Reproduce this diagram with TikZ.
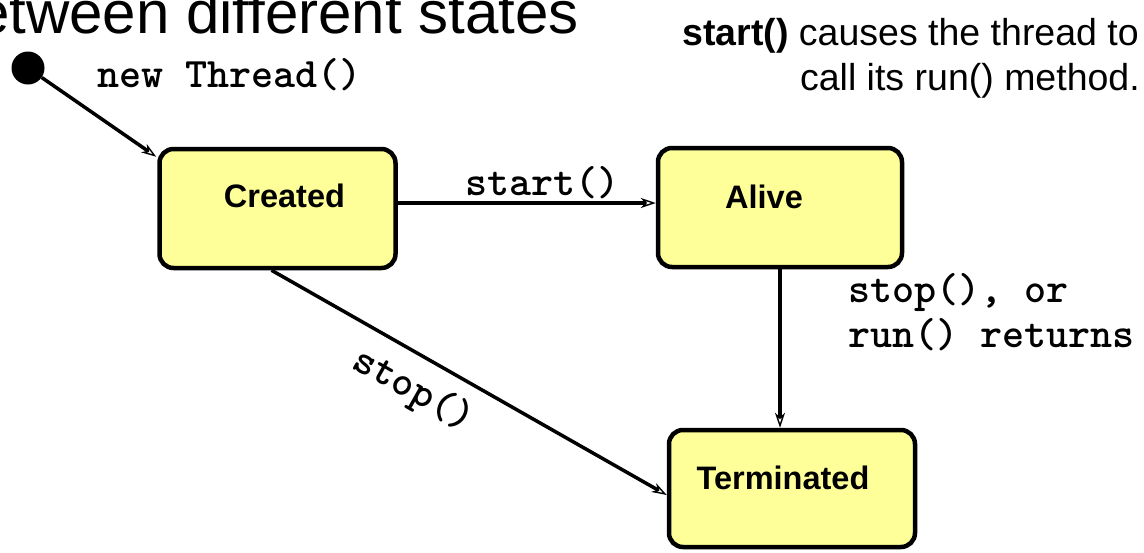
\documentclass[tikz,border=0pt]{standalone}
\usepackage{fontspec}
\setmainfont{Liberation Sans}
\usetikzlibrary{arrows.meta,calc}
\definecolor{statefill}{HTML}{FFFF99}
\tikzset{
  state/.style={draw, line width=4.5pt, rounded corners=14pt, fill=statefill, inner sep=0pt},
  statetext/.style={inner sep=0pt, font=\fontsize{32.5}{39}\selectfont\bfseries},
  code/.style={inner sep=0pt, font=\ttfamily\bfseries\fontsize{42}{45}\selectfont},
  note/.style={inner sep=0pt, font=\fontsize{37.5}{44}\selectfont},
  conn/.style={line width=3.5pt, -{Stealth[open, length=15pt, width=10pt, inset=4.5pt, line width=1.4pt]}},
}
\begin{document}
\begin{tikzpicture}[x=1pt, y=-1pt]
\useasboundingbox (0,0) rectangle (1144,552);
\clip (0,0) rectangle (1144,552);

% heading, cut by the top edge
\node[inner sep=0pt, anchor=base west, font=\fontsize{60}{72}\selectfont] (heading) at (-24,33) {etween different states};

% note on start()
\node[note, anchor=base east] (note1) at (1139,45) {\textbf{start()} causes the thread to};
\node[note, anchor=base east] (note2) at (1140,90) {call its run() method.};

% initial pseudo-state
\node[circle, fill=black, inner sep=0pt, minimum size=33pt] (init) at (28,68) {};
\node[code, anchor=base west] (newlbl) at (97,87) {new Thread()};

% states
\node[state, minimum width=236pt, minimum height=119pt] (created) at (277.5,208.5) {};
\node[state, minimum width=244pt, minimum height=119pt] (alive) at (780,207.5) {};
\node[state, minimum width=246pt, minimum height=117pt] (terminated) at (792,488.5) {};

\node[statetext] (createdtxt) at ($(created.center)+(7,-12.5)$) {Created};
\node[statetext] (alivetxt) at ($(alive.center)+(-16,-11)$) {Alive};
\node[statetext] (terminatedtxt) at ($(terminated.center)+(-9,-10.5)$) {Terminated};

% transitions
\draw[conn] (init) -- ($(created.north west)+(-1,10)$);
\draw[conn] ($(created.east)+(0,-5.5)$) -- ($(alive.west)+(0,-4.5)$);
\draw[conn] (alive.south) -- (alive.south |- terminated.north);
\draw[conn] ($(created.south)+(-6,0)$) -- ($(terminated.west)+(0,6.5)$);

% transition labels
\node[code, anchor=base west] (startlbl) at (465,195) {start()};
\node[code, anchor=base west] (stoplbl1) at (848,302) {stop(), or};
\node[code, anchor=base west] (stoplbl2) at (848,347) {run() returns};
\node[code, rotate=-29.5] (stoplbl3) at (413,391) {stop()};
\end{tikzpicture}
\end{document}
